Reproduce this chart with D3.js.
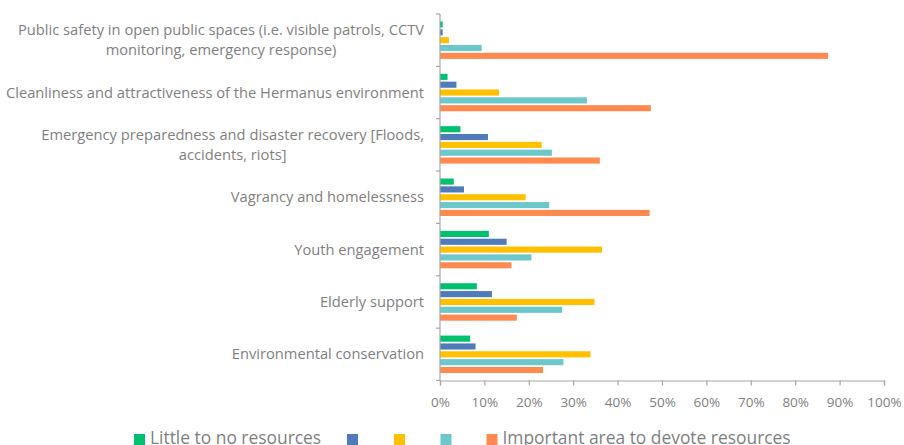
<!DOCTYPE html>
<html>
<head>
<meta charset="utf-8">
<script src="https://cdn.jsdelivr.net/npm/d3@7"></script>
<style>
  body { margin: 0; background: #fff; }
  text { font-family: "Open Sans", sans-serif; }
</style>
</head>
<body>
<script>
// categories, top to bottom
var categories = [
  ['Public safety in open public spaces (i.e. visible patrols, CCTV', 'monitoring, emergency response)'],
  ['Cleanliness and attractiveness of the Hermanus environment'],
  ['Emergency preparedness and disaster recovery [Floods,', 'accidents, riots]'],
  ['Vagrancy and homelessness'],
  ['Youth engagement'],
  ['Elderly support'],
  ['Environmental conservation']
];
var series_names = ['Little to no resources', '', '', '', 'Important area to devote resources'];
var series_colors = ['#00bf6f', '#4f7bba', '#ffc000', '#6cc8cb', '#ff8a50'];

// values in percent, one array per series (same order as categories)
var little = [0.6, 1.7, 4.6, 3.1, 11.0, 8.3, 6.8];
var level2 = [0.6, 3.7, 10.8, 5.4, 15.0, 11.7, 8.0];
var level3 = [2.0, 13.3, 22.9, 19.3, 36.5, 34.8, 33.9];
var level4 = [9.4, 33.1, 25.2, 24.6, 20.6, 27.5, 27.8];
var important = [87.4, 47.5, 36.0, 47.2, 16.1, 17.3, 23.2];
var tick_values = [0, 10, 20, 30, 40, 50, 60, 70, 80, 90, 100];

var all_series = [little, level2, level3, level4, important];

var width = 904, height = 445;
var left = 440, right = 884, top_y = 14, bottom_y = 380.5;
var axis_color = '#a6a6a6', text_color = '#7f7f7f';

var svg = d3.select('body').append('svg').attr('width', width).attr('height', height);

var x_scale = d3.scaleLinear().domain([0, 100]).range([left, right]);
var y_scale = d3.scaleBand().domain(d3.range(categories.length)).range([top_y, bottom_y]);
var inner = d3.scaleBand().domain(d3.range(all_series.length))
  .range([0, y_scale.bandwidth()]).paddingInner(0.22).paddingOuter(0.95);

// bars
var groups = svg.selectAll('g.cat').data(categories).enter().append('g')
  .attr('class', 'cat')
  .attr('transform', (d, i) => 'translate(0,' + y_scale(i) + ')');

groups.each(function(d, ci) {
  d3.select(this).selectAll('rect').data(all_series).enter().append('rect')
    .attr('x', x_scale(0))
    .attr('y', (s, si) => inner(si))
    .attr('height', inner.bandwidth())
    .attr('width', s => x_scale(s[ci]) - x_scale(0))
    .attr('fill', (s, si) => series_colors[si]);
});

// x axis
var x_axis = svg.append('g').attr('transform', 'translate(0,' + bottom_y + ')')
  .call(d3.axisBottom(x_scale).tickValues(tick_values).tickSize(5).tickFormat(d => d + '%'));
x_axis.select('.domain').attr('stroke', axis_color).attr('stroke-width', 1.2);
x_axis.selectAll('.tick line').attr('stroke', axis_color).attr('stroke-width', 1.2);
x_axis.selectAll('.tick text').attr('fill', text_color).attr('font-size', 13.5)
  .attr('font-family', '"Open Sans", sans-serif').attr('dy', '1.4em');

// y axis line and boundary ticks
svg.append('line').attr('x1', left).attr('x2', left).attr('y1', top_y).attr('y2', bottom_y)
  .attr('stroke', axis_color).attr('stroke-width', 1.2);
svg.selectAll('line.ytick').data(d3.range(categories.length + 1)).enter().append('line')
  .attr('class', 'ytick')
  .attr('x1', left - 4).attr('x2', left)
  .attr('y1', i => i < categories.length ? y_scale(i) : bottom_y)
  .attr('y2', i => i < categories.length ? y_scale(i) : bottom_y)
  .attr('stroke', axis_color).attr('stroke-width', 1.2);

// category labels (multi-line centred within a right-aligned block)
var label_right = 424;
var line_h = 20;
categories.forEach(function(lines, i) {
  var cy = y_scale(i) + y_scale.bandwidth() / 2;
  var t = svg.append('text').attr('fill', text_color).attr('font-size', 14.7);
  var spans = lines.map(function(l, k) {
    return t.append('tspan').text(l)
      .attr('y', cy + (k - (lines.length - 1) / 2) * line_h)
      .attr('dy', '0.35em');
  });
  var widths = spans.map(s => s.node().getComputedTextLength());
  var maxw = d3.max(widths);
  var center = label_right - maxw / 2;
  spans.forEach(s => s.attr('x', center).attr('text-anchor', 'middle'));
});

// legend (cut by the bottom edge, as in the original)
var legend_x = [134, 347, 394, 440.5, 486.5];
var legend = svg.append('g');
series_names.forEach(function(name, i) {
  legend.append('rect').attr('x', legend_x[i]).attr('y', 434).attr('width', 11).attr('height', 11)
    .attr('fill', series_colors[i]);
  if (name)
    legend.append('text').attr('x', legend_x[i] + 16).attr('y', 444)
      .attr('fill', text_color).attr('font-size', 17.4).text(name);
});
</script>
</body>
</html>
